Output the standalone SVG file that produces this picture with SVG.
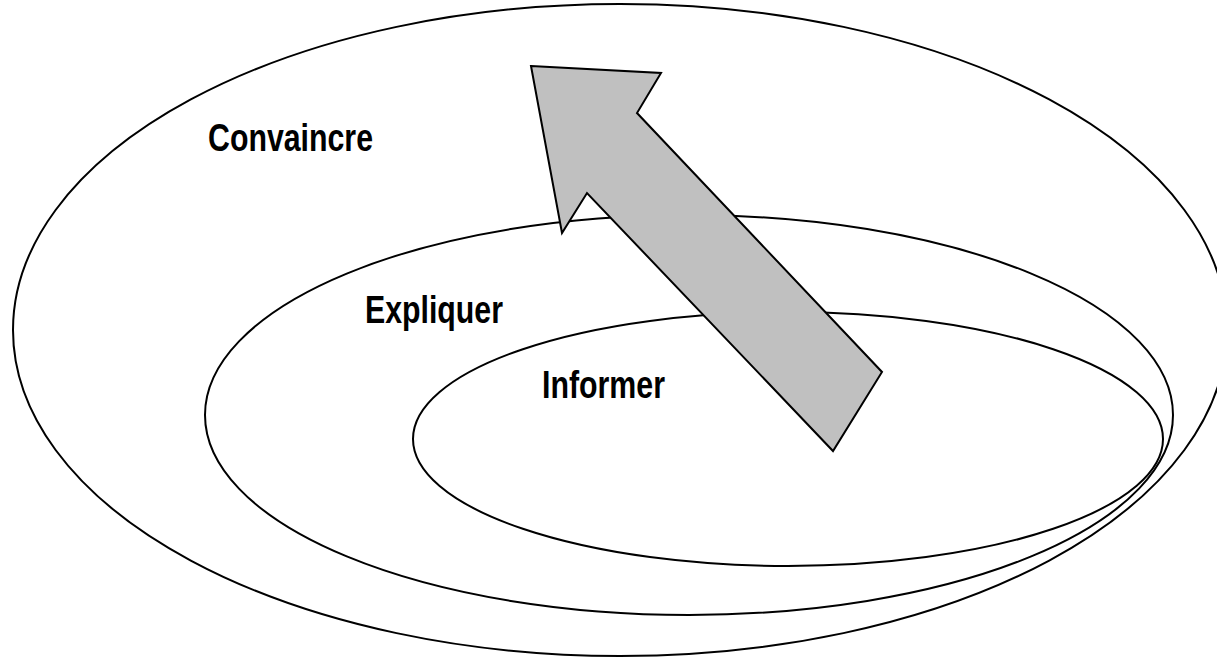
<svg xmlns="http://www.w3.org/2000/svg" width="1217" height="658" viewBox="0 0 1217 658">
<style>
.ring{fill:none;stroke:#000;stroke-width:2}
.lbl{font-family:"Liberation Sans Narrow","Liberation Sans",Arial,sans-serif;font-weight:bold;font-size:38px;fill:#000}
.arrow{fill:#C0C0C0;stroke:#000;stroke-width:2;stroke-linejoin:miter}
</style>
<rect width="1217" height="658" fill="#fff"/>
<g id="convaincre">
<ellipse class="ring" cx="620" cy="330" rx="607" ry="326"/>
<text class="lbl" x="208" y="151" textLength="165" lengthAdjust="spacingAndGlyphs">Convaincre</text>
</g>
<g id="expliquer">
<ellipse class="ring" cx="689" cy="415" rx="484" ry="200"/>
<text class="lbl" x="365" y="323" textLength="138" lengthAdjust="spacingAndGlyphs">Expliquer</text>
</g>
<g id="informer">
<ellipse class="ring" cx="788" cy="439" rx="375" ry="127"/>
<text class="lbl" x="542" y="398" textLength="123" lengthAdjust="spacingAndGlyphs">Informer</text>
</g>
<g id="connectors">
<polygon class="arrow" points="531,66 661,73 637,113 882,372 833,451 587,193 562,233"/>
</g>
</svg>
